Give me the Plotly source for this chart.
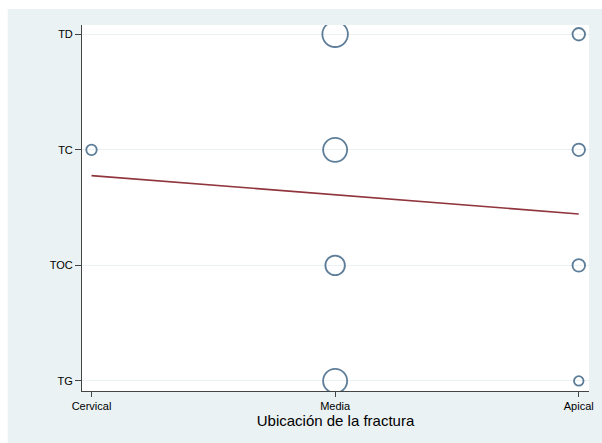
import plotly.graph_objects as go

x_labels = ["Cervical", "Media", "Apical"]
y_labels = ["TG", "TOC", "TC", "TD"]

# bubble points: x category index (1..3), y category index (1..4), marker size
pt_x = [1, 2, 3, 2, 3, 2, 3, 2, 3]
pt_y = [3, 4, 4, 3, 3, 2, 2, 1, 1]
pt_size = [10.5, 25.5, 12.5, 24, 12.5, 19.5, 12.5, 24, 9.5]

# fitted line endpoints
fit_x = [1, 3]
fit_y = [2.777, 2.445]

fig = go.Figure()
fig.add_trace(go.Scatter(
    x=pt_x, y=pt_y, mode="markers",
    marker=dict(size=pt_size, color="rgba(0,0,0,0)",
                line=dict(color="#1A476F", width=1.8)),
    showlegend=False, hoverinfo="skip"))
fig.add_trace(go.Scatter(
    x=fit_x, y=fit_y, mode="lines",
    line=dict(color="#90353B", width=1.6),
    showlegend=False, hoverinfo="skip"))

# white strips around the light outer background (top and left)
fig.add_shape(type="rect", xref="paper", yref="paper",
              x0=-0.2, x1=1.1, y0=1.0437, y1=1.1,
              fillcolor="white", line=dict(width=0), layer="below")
fig.add_shape(type="rect", xref="paper", yref="paper",
              x0=-0.2, x1=-0.1465, y0=-0.2, y1=1.1,
              fillcolor="white", line=dict(width=0), layer="below")

fig.update_layout(
    width=602, height=443,
    margin=dict(l=82, r=8, t=25, b=52),
    paper_bgcolor="#EAF2F3", plot_bgcolor="white",
    font=dict(family="Liberation Sans, Arial, sans-serif", size=11, color="#000"),
    xaxis=dict(range=[0.961, 3.042], tickvals=[1, 2, 3], ticktext=x_labels,
               showgrid=False, zeroline=False, showline=True,
               linecolor="#444", linewidth=1, ticks="outside", ticklen=5,
               tickcolor="#444",
               title=dict(text="Ubicación de la fractura",
                          font=dict(size=15), standoff=2)),
    yaxis=dict(range=[0.913, 4.08], tickvals=[1, 2, 3, 4], ticktext=y_labels,
               showgrid=True, gridcolor="#EAF2F3", gridwidth=1.2,
               zeroline=False, showline=True,
               linecolor="#444", linewidth=1, ticks="outside", ticklen=6,
               tickcolor="#444"),
)

fig.write_html("out.html",
               config={"displayModeBar": False},
               post_script="document.documentElement.style.overflow='hidden';document.body.style.margin='0';document.body.style.overflow='hidden';")
